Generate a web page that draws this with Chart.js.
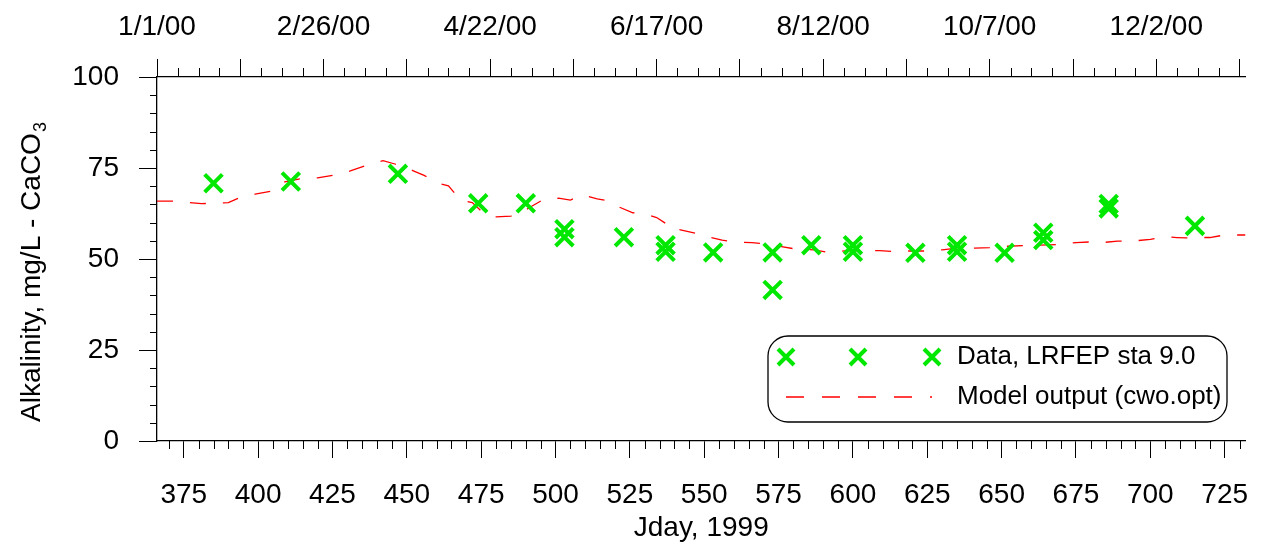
<!DOCTYPE html>
<html>
<head>
<meta charset="utf-8">
<script src="https://cdn.jsdelivr.net/npm/chart.js@4.4.1/dist/chart.umd.min.js"></script>
<style>
  body { margin: 0; background: #fff; }
  #wrap { width: 1262px; height: 545px; }
</style>
</head>
<body>
<div id="wrap"><canvas id="alkChart"></canvas></div>
<script>
// observed alkalinity, LRFEP sta 9.0
const dataDays   = [385, 411, 447, 474, 490, 503, 503, 523, 537, 537, 553, 573, 573, 586, 600, 600, 621, 635, 635, 651, 664, 664, 686, 686, 715];
const dataValues = [70.8, 71.3, 73.4, 65.3, 65.3, 58.2, 56.0, 56.0, 53.8, 52.0, 51.8, 51.8, 41.5, 53.8, 53.8, 52.0, 51.7, 53.8, 52.0, 51.7, 57.2, 55.2, 65.1, 63.9, 59.1];

// model output (cwo.opt)
const modelDays = [366, 372, 378, 381, 384, 390, 394, 399, 405, 409, 414, 420, 426, 431, 436, 442, 446, 452, 456, 460, 464,
  468, 472, 476, 480, 485, 488, 492, 496, 501, 505, 509, 514, 518, 521, 526, 530, 534, 537, 538, 542, 547, 551, 556, 561,
  566, 571, 576, 581, 587, 592, 598, 603, 609, 614, 618, 624, 630, 635, 641, 646, 652, 657, 663, 669, 675, 680, 685, 689,
  695, 700, 705, 709, 712, 715, 720, 725, 732];
const modelValues = [65.9, 65.9, 65.4, 65.2, 65.3, 65.5, 66.9, 67.8, 68.7, 71.2, 72.0, 72.3, 73.1, 74.2, 75.6, 77.0, 76.1, 74.3, 72.9, 70.9, 70.1,
  66.2, 65.5, 62.4, 61.6, 61.8, 62.5, 64.5, 66.4, 66.7, 66.2, 67.6, 66.5, 66.0, 64.4, 62.7, 62.4, 61.4, 59.8, 58.5, 58.0, 57.1, 56.1, 55.2, 54.6,
  54.5, 54.1, 53.4, 52.7, 52.5, 51.8, 52.3, 52.2, 52.3, 52.0, 52.2, 52.2, 52.5, 53.0, 53.0, 53.1, 53.5, 53.7, 53.8, 54.0, 54.5, 54.7, 54.6, 54.9,
  55.0, 55.4, 56.1, 55.9, 55.8, 55.9, 55.9, 56.6, 56.6];

const jdayTicks = [375, 400, 425, 450, 475, 500, 525, 550, 575, 600, 625, 650, 675, 700, 725];
const yTicks = [0, 25, 50, 75, 100];
const dateLabelDays = [366, 422, 478, 534, 590, 646, 702];
const dateLabels = ['1/1/00', '2/26/00', '4/22/00', '6/17/00', '8/12/00', '10/7/00', '12/2/00'];

const FONT = "'Liberation Sans', Arial, sans-serif";
const GREEN = 'rgb(0,232,0)';
const RED = 'rgb(255,0,0)';
const tickFont = { family: FONT, size: 28 };

// small ticks between the labelled ones
const minorTicks = {
  id: 'minorTicks',
  afterDraw(chart) {
    const { ctx, chartArea, scales } = chart;
    ctx.save();
    ctx.strokeStyle = '#000';
    ctx.lineWidth = 1;
    ctx.beginPath();
    for (let d = 370; d <= 730; d += 5) {
      if (jdayTicks.includes(d)) continue;
      const x = Math.round(scales.x.getPixelForValue(d)) + 0.5;
      ctx.moveTo(x, chartArea.bottom);
      ctx.lineTo(x, chartArea.bottom + 8);
    }
    for (let d = 366; d <= 732; d += 7) {
      if ((d - 366) % 28 === 0) continue;
      const x = Math.round(scales.x2.getPixelForValue(d)) + 0.5;
      ctx.moveTo(x, chartArea.top);
      ctx.lineTo(x, chartArea.top - 9);
    }
    for (let v = 5; v < 100; v += 5) {
      if (yTicks.includes(v)) continue;
      const y = Math.round(scales.y.getPixelForValue(v)) + 0.5;
      ctx.moveTo(chartArea.left, y);
      ctx.lineTo(chartArea.left - 7, y);
    }
    ctx.stroke();
    ctx.restore();
  }
};

// y title with subscript 3
const yTitle = {
  id: 'yTitle',
  afterDraw(chart) {
    const ctx = chart.ctx;
    ctx.save();
    ctx.translate(40, 422);
    ctx.rotate(-Math.PI / 2);
    ctx.fillStyle = '#000';
    ctx.textBaseline = 'alphabetic';
    ctx.textAlign = 'left';
    ctx.font = `28px ${FONT}`;
    const main = 'Alkalinity, mg/L - CaCO';
    ctx.fillText(main, 0, 0);
    const w = ctx.measureText(main).width;
    ctx.font = `18px ${FONT}`;
    ctx.fillText('3', w + 1, 6);
    ctx.restore();
  }
};

function drawX(ctx, x, y, r) {
  ctx.beginPath();
  ctx.moveTo(x - r, y - r); ctx.lineTo(x + r, y + r);
  ctx.moveTo(x - r, y + r); ctx.lineTo(x + r, y - r);
  ctx.stroke();
}

const boxLegend = {
  id: 'boxLegend',
  afterDraw(chart) {
    const ctx = chart.ctx;
    const x0 = 768, y0 = 336, x1 = 1227, y1 = 422, r = 20;
    ctx.save();
    ctx.fillStyle = '#fff';
    ctx.strokeStyle = '#000';
    ctx.lineWidth = 1.3;
    ctx.beginPath();
    ctx.moveTo(x0 + r, y0);
    ctx.lineTo(x1 - r, y0);
    ctx.arcTo(x1, y0, x1, y0 + r, r);
    ctx.lineTo(x1, y1 - r);
    ctx.arcTo(x1, y1, x1 - r, y1, r);
    ctx.lineTo(x0 + r, y1);
    ctx.arcTo(x0, y1, x0, y1 - r, r);
    ctx.lineTo(x0, y0 + r);
    ctx.arcTo(x0, y0, x0 + r, y0, r);
    ctx.closePath();
    ctx.fill();
    ctx.stroke();

    ctx.strokeStyle = GREEN;
    ctx.lineWidth = 4;
    [786, 858, 932].forEach(x => drawX(ctx, x, 357, 8));

    ctx.strokeStyle = RED;
    ctx.lineWidth = 1.3;
    ctx.setLineDash([18, 18]);
    ctx.beginPath();
    ctx.moveTo(786, 397);
    ctx.lineTo(932, 397);
    ctx.stroke();
    ctx.setLineDash([]);

    ctx.fillStyle = '#000';
    ctx.font = `26px ${FONT}`;
    ctx.textBaseline = 'middle';
    ctx.textAlign = 'left';
    ctx.fillText('Data, LRFEP sta 9.0', 957, 357);
    ctx.fillText('Model output (cwo.opt)', 957, 397);
    ctx.restore();
  }
};

const ctx = document.getElementById('alkChart').getContext('2d');
new Chart(ctx, {
  type: 'scatter',
  data: {
    datasets: [{
      label: 'Data, LRFEP sta 9.0',
      data: dataDays.map((d, i) => ({ x: d, y: dataValues[i] })),
      pointStyle: 'crossRot',
      pointRadius: 12.5,
      pointBorderWidth: 4,
      borderColor: GREEN,
      backgroundColor: GREEN,
      showLine: false
    }, {
      label: 'Model output (cwo.opt)',
      data: modelDays.map((d, i) => ({ x: d, y: modelValues[i] })),
      showLine: true,
      pointRadius: 0,
      borderColor: RED,
      borderWidth: 1.3,
      borderDash: [16, 17],
      tension: 0
    }]
  },
  options: {
    responsive: true,
    maintainAspectRatio: false,
    animation: false,
    layout: { padding: { left: 0, right: 14, top: 0, bottom: 0 } },
    plugins: { legend: { display: false }, tooltip: { enabled: false } },
    scales: {
      x: {
        type: 'linear', position: 'bottom', min: 366, max: 732,
        afterBuildTicks: s => { s.ticks = jdayTicks.map(v => ({ value: v })); },
        afterFit: s => { s.height = 104; s.paddingLeft = 0; s.paddingRight = 0; },
        ticks: { font: tickFont, color: '#000', padding: 20, maxRotation: 0, autoSkip: false },
        grid: { drawOnChartArea: false, tickLength: 17, color: '#000', lineWidth: 1 },
        border: { color: '#000', width: 1.3 },
        title: { display: true, text: 'Jday, 1999', font: tickFont, color: '#000', padding: { top: 0, bottom: 0 } }
      },
      x2: {
        type: 'linear', position: 'top', min: 366, max: 732,
        afterBuildTicks: s => {
          const t = [];
          for (let d = 366; d <= 732; d += 28) t.push({ value: d });
          s.ticks = t;
        },
        afterFit: s => { s.height = 77; s.paddingLeft = 0; s.paddingRight = 0; },
        ticks: {
          font: tickFont, color: '#000', padding: 15, maxRotation: 0, autoSkip: false,
          callback: v => { const i = dateLabelDays.indexOf(v); return i >= 0 ? dateLabels[i] : ''; }
        },
        grid: { drawOnChartArea: false, tickLength: 18, color: '#000', lineWidth: 1 },
        border: { color: '#000', width: 1.3 }
      },
      y: {
        min: 0, max: 100,
        afterBuildTicks: s => { s.ticks = yTicks.map(v => ({ value: v })); },
        afterFit: s => { s.width = 157; },
        ticks: { font: tickFont, color: '#000', padding: 20 },
        grid: { drawOnChartArea: false, tickLength: 18, color: '#000', lineWidth: 1 },
        border: { color: '#000', width: 1.3 }
      }
    }
  },
  plugins: [minorTicks, yTitle, boxLegend]
});
</script>
</body>
</html>
